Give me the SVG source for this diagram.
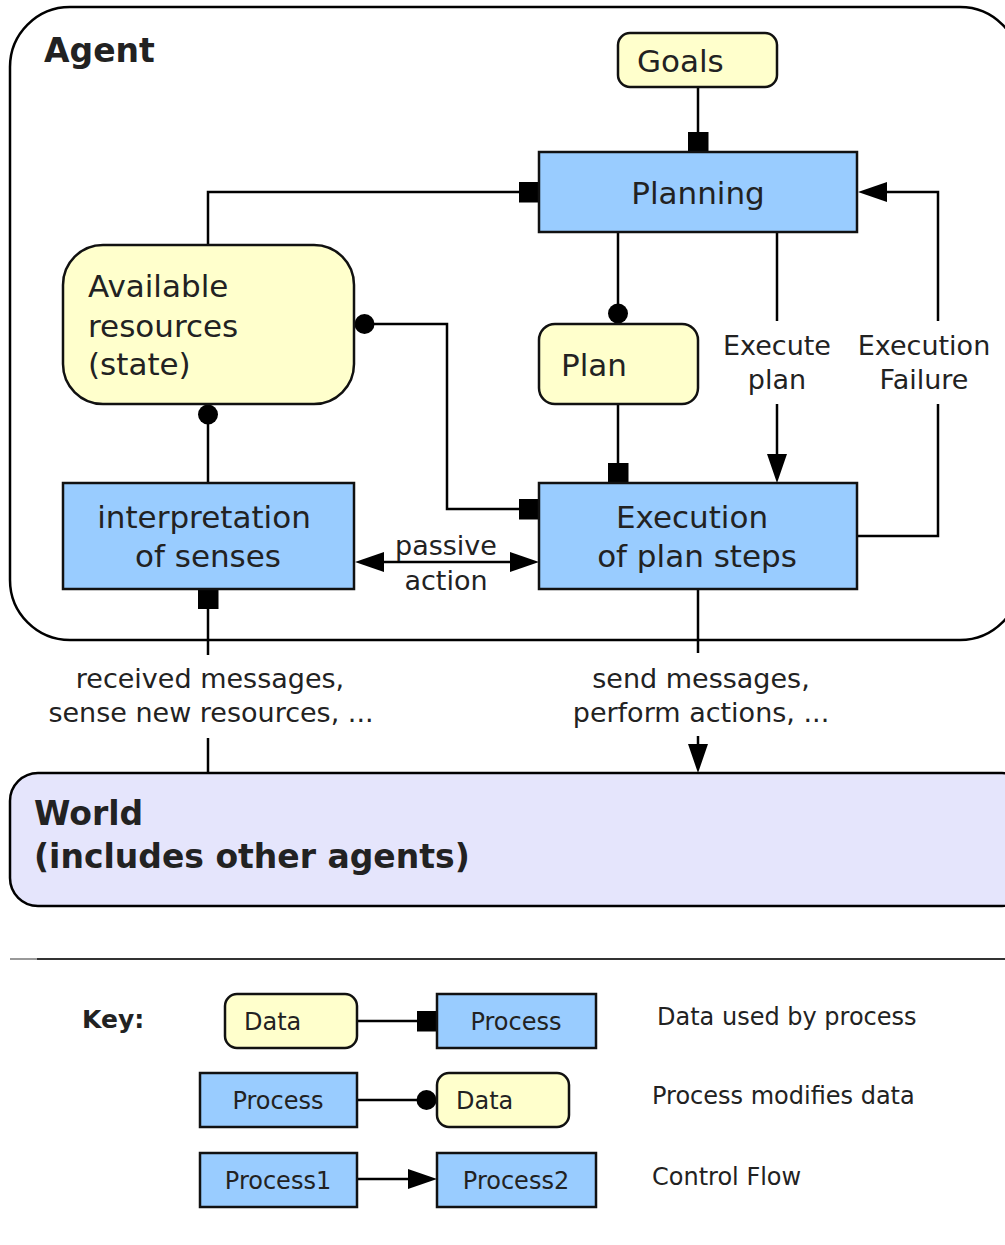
<svg xmlns="http://www.w3.org/2000/svg" width="1005" height="1245" viewBox="0 0 1005 1245">
<style>
text{font-family:"DejaVu Sans","Liberation Sans",sans-serif;fill:#222}
.main{font-size:31px}
.lab{font-size:27px}
.key{font-size:24px}
.bold{font-weight:bold}
.mid{text-anchor:middle}
.proc{fill:#99CCFF;stroke:#111;stroke-width:2.5}
.data{fill:#FFFFCC;stroke:#111;stroke-width:2.5}
.conn path{fill:none;stroke:#000;stroke-width:2.5}
</style>
<defs>
<marker id="sq" viewBox="-20 -10.5 20 21" refX="0" refY="0" markerWidth="20" markerHeight="21" markerUnits="userSpaceOnUse" orient="auto-start-reverse"><rect x="-20" y="-10.5" width="20" height="21" fill="#000"/></marker>
<marker id="dot" viewBox="-21 -10.5 21 21" refX="0" refY="0" markerWidth="21" markerHeight="21" markerUnits="userSpaceOnUse" orient="auto-start-reverse"><circle cx="-10.5" cy="0" r="10" fill="#000"/></marker>
<marker id="arr" viewBox="0 -10 29 20" refX="0" refY="0" markerWidth="29" markerHeight="20" markerUnits="userSpaceOnUse" orient="auto-start-reverse"><path d="M0,-10 L29,0 L0,10 Z" fill="#000"/></marker>
</defs>
<rect width="1005" height="1245" fill="#fff"/>

<g id="agent">
<rect x="10" y="7" width="1010" height="633" rx="60" fill="#fff" stroke="#000" stroke-width="2.5"/>
<text class="bold" x="44" y="62" font-size="33">Agent</text>
</g>

<g id="world">
<rect x="10" y="773" width="1020" height="133" rx="28" fill="#E5E5FC" stroke="#000" stroke-width="2.5"/>
<text class="bold" x="34" y="825" font-size="33">World</text>
<text class="bold" x="34" y="868" font-size="33">(includes other agents)</text>
</g>

<g class="conn" id="connectors">
<path d="M698,87 V152" marker-end="url(#sq)"/>
<path d="M208,245 V192 H539" marker-end="url(#sq)"/>
<path d="M618,232 V324" marker-end="url(#dot)"/>
<path d="M618,404 V483" marker-end="url(#sq)"/>
<path d="M777,232 V321"/>
<path d="M777,404 V454" marker-end="url(#arr)"/>
<path d="M857,536 H938 V404"/>
<path d="M938,321 V192 H887" marker-end="url(#arr)"/>
<path d="M539,509 H447 V324 H354" marker-start="url(#sq)" marker-end="url(#dot)"/>
<path d="M208,483 V404" marker-end="url(#dot)"/>
<path d="M208,773 V738"/>
<path d="M208,655 V589" marker-end="url(#sq)"/>
<path d="M698,589 V653"/>
<path d="M698,736 V744" marker-end="url(#arr)"/>
<path d="M384,562 H510" marker-start="url(#arr)" marker-end="url(#arr)"/>
<path d="M357,1021 H437" marker-end="url(#sq)"/>
<path d="M357,1100 H437" marker-end="url(#dot)"/>
<path d="M357,1179 H408" marker-end="url(#arr)"/>
</g>

<g id="goals">
<rect class="data" x="618" y="33" width="159" height="54" rx="12"/>
<text class="main" x="637" y="72">Goals</text>
</g>
<g id="planning">
<rect class="proc" x="539" y="152" width="318" height="80"/>
<text class="main mid" x="698" y="204">Planning</text>
</g>
<g id="available-resources">
<rect class="data" x="63" y="245" width="291" height="159" rx="40"/>
<text class="main" x="88" y="297">Available</text>
<text class="main" x="88" y="337">resources</text>
<text class="main" x="88" y="375">(state)</text>
</g>
<g id="plan">
<rect class="data" x="539" y="324" width="159" height="80" rx="16"/>
<text class="main" x="561" y="376">Plan</text>
</g>
<g id="interpretation">
<rect class="proc" x="63" y="483" width="291" height="106"/>
<text class="main mid" x="204" y="528">interpretation</text>
<text class="main mid" x="208" y="567">of senses</text>
</g>
<g id="execution">
<rect class="proc" x="539" y="483" width="318" height="106"/>
<text class="main mid" x="692" y="528">Execution</text>
<text class="main mid" x="697" y="567">of plan steps</text>
</g>

<g id="labels">
<text class="lab mid" x="777" y="355">Execute</text>
<text class="lab mid" x="777" y="389">plan</text>
<text class="lab mid" x="924" y="355">Execution</text>
<text class="lab mid" x="924" y="389">Failure</text>
<text class="lab mid" x="446" y="555">passive</text>
<text class="lab mid" x="446" y="590">action</text>
<text class="lab mid" x="210" y="688">received messages,</text>
<text class="lab mid" x="211" y="722">sense new resources, ...</text>
<text class="lab mid" x="701" y="688">send messages,</text>
<text class="lab mid" x="701" y="722">perform actions, ...</text>
</g>

<g id="key">
<line x1="10" y1="959" x2="37" y2="959" stroke="#999" stroke-width="2"/>
<line x1="37" y1="959" x2="1005" y2="959" stroke="#333" stroke-width="2"/>
<text class="bold" x="82" y="1028" font-size="25">Key:</text>
<g id="key-data1"><rect class="data" x="225" y="994" width="132" height="54" rx="12"/><text class="key" x="244" y="1030">Data</text></g>
<g id="key-process1"><rect class="proc" x="437" y="994" width="159" height="54"/><text class="key mid" x="516" y="1030">Process</text></g>
<text class="key" x="657" y="1025">Data used by process</text>
<g id="key-process2"><rect class="proc" x="200" y="1073" width="157" height="54"/><text class="key mid" x="278" y="1109">Process</text></g>
<g id="key-data2"><rect class="data" x="437" y="1073" width="132" height="54" rx="12"/><text class="key" x="456" y="1109">Data</text></g>
<text class="key" x="652" y="1104">Process modifies data</text>
<g id="key-process3"><rect class="proc" x="200" y="1153" width="157" height="54"/><text class="key mid" x="278" y="1189">Process1</text></g>
<g id="key-process4"><rect class="proc" x="437" y="1153" width="159" height="54"/><text class="key mid" x="516" y="1189">Process2</text></g>
<text class="key" x="652" y="1185">Control Flow</text>
</g>
</svg>
